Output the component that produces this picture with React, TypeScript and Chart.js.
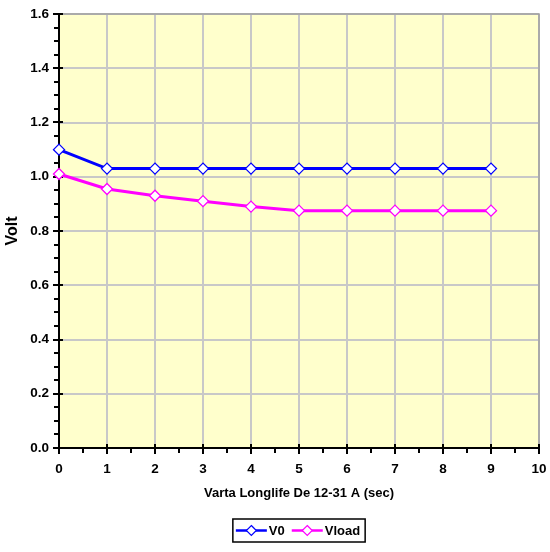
import React, { useEffect, useRef } from "react";
import { Chart, registerables } from "chart.js";

Chart.register(...registerables);

const timeSec = [0, 1, 2, 3, 4, 5, 6, 7, 8, 9];
const v0 = [1.1, 1.03, 1.03, 1.03, 1.03, 1.03, 1.03, 1.03, 1.03, 1.03];
const vload = [1.01, 0.955, 0.93, 0.91, 0.89, 0.875, 0.875, 0.875, 0.875, 0.875];
const seriesNames = ["V0", "Vload"];
const seriesColors = ["#0000ff", "#ff00ff"];
const xTitle = "Varta Longlife De 12-31 A (sec)";
const yTitle = "Volt";

const FONT = "'Liberation Sans', Arial, sans-serif";

const decorPlugin = {
  id: "decor",
  beforeDraw(chart: any) {
    const { ctx, chartArea } = chart;
    ctx.save();
    ctx.fillStyle = "#ffffcc";
    ctx.fillRect(chartArea.left, chartArea.top, chartArea.right - chartArea.left, chartArea.bottom - chartArea.top);
    ctx.restore();
  },
  beforeDatasetsDraw(chart: any) {
    const { ctx, chartArea, scales } = chart;
    const { left, right, top, bottom } = chartArea;
    const xs = scales.x;
    const ys = scales.y;
    ctx.save();
    ctx.strokeStyle = "#a0a0a0";
    ctx.lineWidth = 1.5;
    ctx.beginPath();
    ctx.moveTo(left, top);
    ctx.lineTo(right, top);
    ctx.lineTo(right, bottom);
    ctx.stroke();
    ctx.strokeStyle = "#000";
    ctx.lineWidth = 2;
    ctx.beginPath();
    ctx.moveTo(left, top);
    ctx.lineTo(left, bottom);
    ctx.lineTo(right, bottom);
    ctx.stroke();
    ctx.beginPath();
    for (let i = 0; i <= 32; i++) {
      const v = i * 0.05;
      const y = Math.round(ys.getPixelForValue(v));
      if (i % 4 === 0) {
        ctx.moveTo(left - 6, y);
        ctx.lineTo(left + 4, y);
      } else {
        ctx.moveTo(left - 5, y);
        ctx.lineTo(left, y);
      }
    }
    for (let i = 0; i <= 20; i++) {
      const v = i * 0.5;
      const x = Math.round(xs.getPixelForValue(v));
      if (i % 2 === 0) {
        ctx.moveTo(x, bottom - 4);
        ctx.lineTo(x, bottom + 6);
      } else {
        ctx.moveTo(x, bottom);
        ctx.lineTo(x, bottom + 5);
      }
    }
    ctx.stroke();
    ctx.restore();
  },
  afterDraw(chart: any) {
    const { ctx, chartArea } = chart;
    ctx.save();
    ctx.fillStyle = "#000";
    ctx.font = `bold 13px ${FONT}`;
    ctx.textAlign = "center";
    ctx.textBaseline = "middle";
    ctx.fillText(xTitle, (chartArea.left + chartArea.right) / 2, 493);
    ctx.save();
    ctx.translate(13, (chartArea.top + chartArea.bottom) / 2);
    ctx.rotate(-Math.PI / 2);
    ctx.font = `bold 16px ${FONT}`;
    ctx.fillText(yTitle, 0, 0);
    ctx.restore();
    ctx.font = `bold 13px ${FONT}`;
    const lineLen = 31;
    const padL = 3;
    const padR = 5;
    const gapText = 2;
    const gapItem = 7;
    const widths = seriesNames.map((n) => ctx.measureText(n).width);
    let total = padL + padR;
    widths.forEach((w, i) => {
      total += lineLen + gapText + w + (i < widths.length - 1 ? gapItem : 0);
    });
    const cx = (chartArea.left + chartArea.right) / 2;
    const boxL = cx - total / 2;
    const boxT = 519;
    const boxH = 23;
    ctx.strokeStyle = "#000";
    ctx.lineWidth = 1.5;
    ctx.strokeRect(boxL, boxT, total, boxH);
    const my = boxT + boxH / 2;
    let x = boxL + padL;
    seriesNames.forEach((n, i) => {
      ctx.strokeStyle = seriesColors[i];
      ctx.lineWidth = 2.5;
      ctx.beginPath();
      ctx.moveTo(x, my);
      ctx.lineTo(x + lineLen, my);
      ctx.stroke();
      const dx = x + lineLen / 2;
      const r = 5;
      ctx.beginPath();
      ctx.moveTo(dx, my - r);
      ctx.lineTo(dx + r, my);
      ctx.lineTo(dx, my + r);
      ctx.lineTo(dx - r, my);
      ctx.closePath();
      ctx.fillStyle = "#fff";
      ctx.fill();
      ctx.lineWidth = 1.2;
      ctx.stroke();
      ctx.fillStyle = "#000";
      ctx.textAlign = "left";
      ctx.fillText(n, x + lineLen + gapText, my + 0.5);
      x += lineLen + gapText + widths[i] + gapItem;
    });
    ctx.restore();
  },
};

export default function App() {
  const ref = useRef<HTMLCanvasElement | null>(null);
  useEffect(() => {
    document.body.style.margin = "0";
    if (!ref.current) return;
    const makeDs = (label: string, values: number[], color: string) => ({
      label,
      data: timeSec.map((t, i) => ({ x: t, y: values[i] })),
      borderColor: color,
      backgroundColor: color,
      borderWidth: 3,
      pointStyle: "rectRot",
      pointRadius: 5.5,
      pointBorderWidth: 1.3,
      pointBackgroundColor: "#ffffff",
      pointBorderColor: color,
      tension: 0,
      clip: false,
    });
    const chart = new Chart(ref.current, {
      type: "line",
      data: {
        datasets: [makeDs(seriesNames[0], v0, seriesColors[0]), makeDs(seriesNames[1], vload, seriesColors[1])] as any,
      },
      options: {
        responsive: false,
        animation: false,
        layout: { padding: { left: 0, top: 14, right: 11, bottom: 0 } },
        plugins: { legend: { display: false }, tooltip: { enabled: false } },
        scales: {
          x: {
            type: "linear",
            min: 0,
            max: 10,
            ticks: {
              stepSize: 1,
              color: "#000",
              font: { family: FONT, size: 13.5, weight: "bold" },
              padding: 13,
              maxRotation: 0,
            },
            grid: { color: "#c8c8c8", lineWidth: 2, drawTicks: false },
            border: { display: false },
            afterFit: (s: any) => {
              s.height = 104;
              s.paddingLeft = 0;
              s.paddingRight = 0;
              s.paddingTop = 0;
              s.paddingBottom = 0;
            },
          },
          y: {
            type: "linear",
            min: 0,
            max: 1.6,
            ticks: {
              stepSize: 0.2,
              color: "#000",
              font: { family: FONT, size: 13.5, weight: "bold" },
              padding: 10,
              callback: (v: any) => Number(v).toFixed(1),
            },
            grid: { color: "#c8c8c8", lineWidth: 2, drawTicks: false },
            border: { display: false },
            afterFit: (s: any) => {
              s.width = 59;
              s.paddingLeft = 0;
              s.paddingRight = 0;
              s.paddingTop = 0;
              s.paddingBottom = 0;
            },
          },
        },
      } as any,
      plugins: [decorPlugin],
    });
    return () => chart.destroy();
  }, []);
  return <canvas ref={ref} width={550} height={552} style={{ display: "block" }} />;
}
